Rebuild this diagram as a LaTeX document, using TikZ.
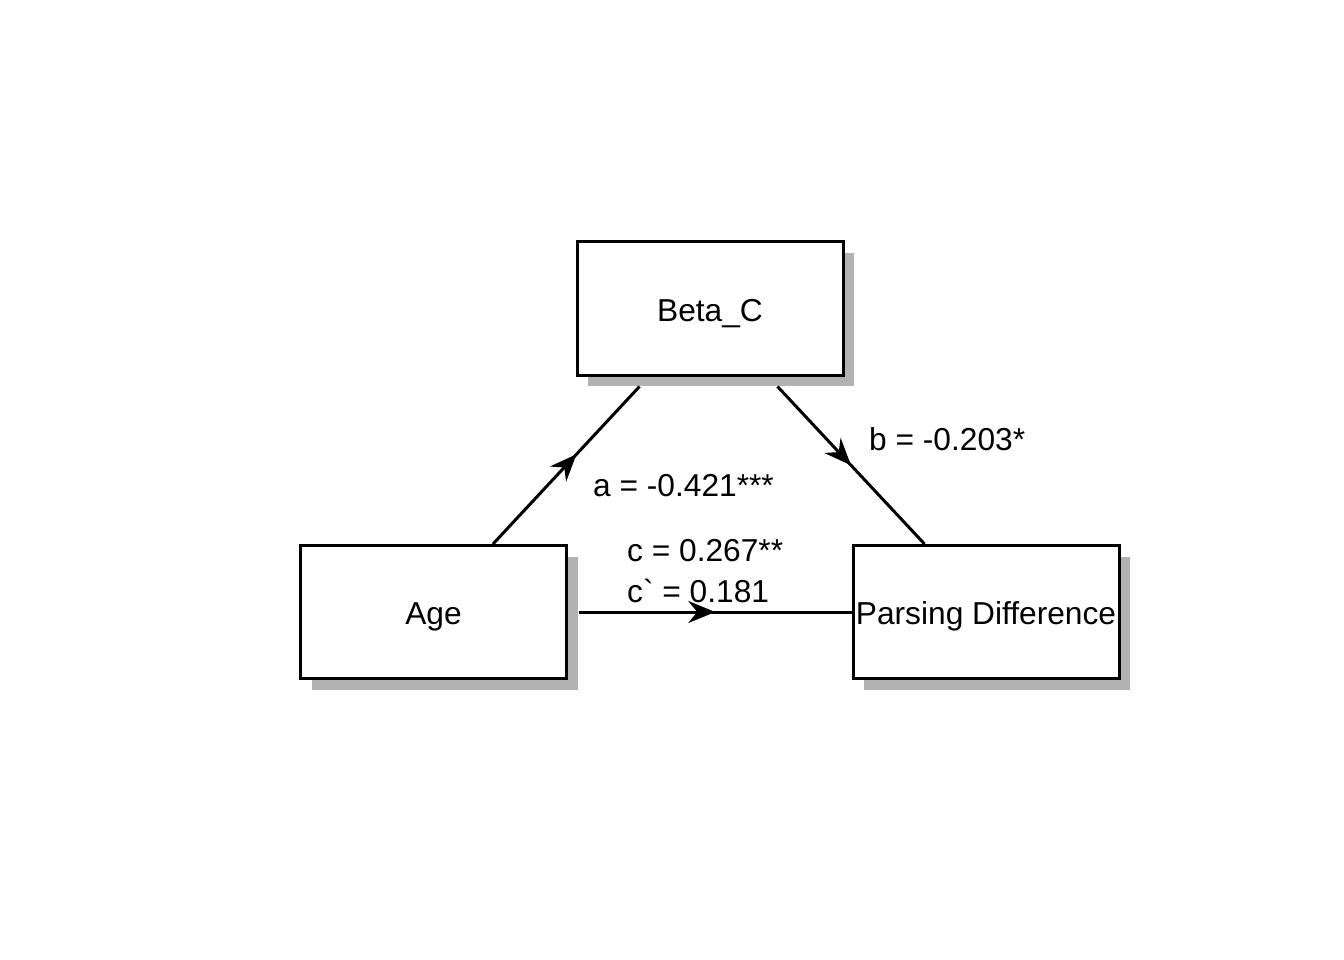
\documentclass[tikz,border=0pt]{standalone}
\usepackage{fontspec}
\setmainfont{Liberation Sans}[Ligatures=TeXOff]
\usetikzlibrary{arrows.meta,decorations.markings,calc,shadows}
\begin{document}
\begin{tikzpicture}[x=1pt,y=-1pt,
  lbl/.style={font=\fontsize{31.7}{38}\selectfont,inner sep=0pt},
  box/.style={lbl,draw=black,line width=3pt,fill=white,minimum width=266pt,minimum height=133pt,
    text height=25pt,text depth=0pt,
    drop shadow={shadow xshift=11pt,shadow yshift=-11pt,fill=black!30,opacity=1}},
  path/.style={line width=3pt,postaction={decorate},
    decoration={markings,mark=at position #1 with {\arrow{Stealth[length=27pt,width=22pt,inset=9pt]}}}},
  path/.default=0.5]
\useasboundingbox (0,0) rectangle (1344,960);
\node[box] (beta) at (710,308.5) {Beta\_C};
\node[box] (age) at (433.5,612) {Age};
\node[box] (pd) at (986,612) {Parsing Difference};
\coordinate (a1) at ($(age.north west)+(194,0)$);
\coordinate (a2) at ($(beta.south west)+(64,10)$);
\coordinate (b1) at ($(beta.south west)+(202,10)$);
\coordinate (b2) at ($(pd.north west)+(73,0)$);
\coordinate (c1) at ($(age.east)+(11,0)$);
\draw[path=0.57] (a1) -- (a2);
\draw[path=0.5] (b1) -- (b2);
\draw[path=0.5] (c1) -- (pd.west);
\node[lbl,anchor=west] (la) at (593,486) {a = -0.421***};
\node[lbl,anchor=west] (lb) at (869,439) {b = -0.203*};
\node[lbl,anchor=west] (lc) at (627,551) {c = 0.267**};
\node[lbl,anchor=west] (lcp) at (627,591) {c` = 0.181};
\end{tikzpicture}
\end{document}
